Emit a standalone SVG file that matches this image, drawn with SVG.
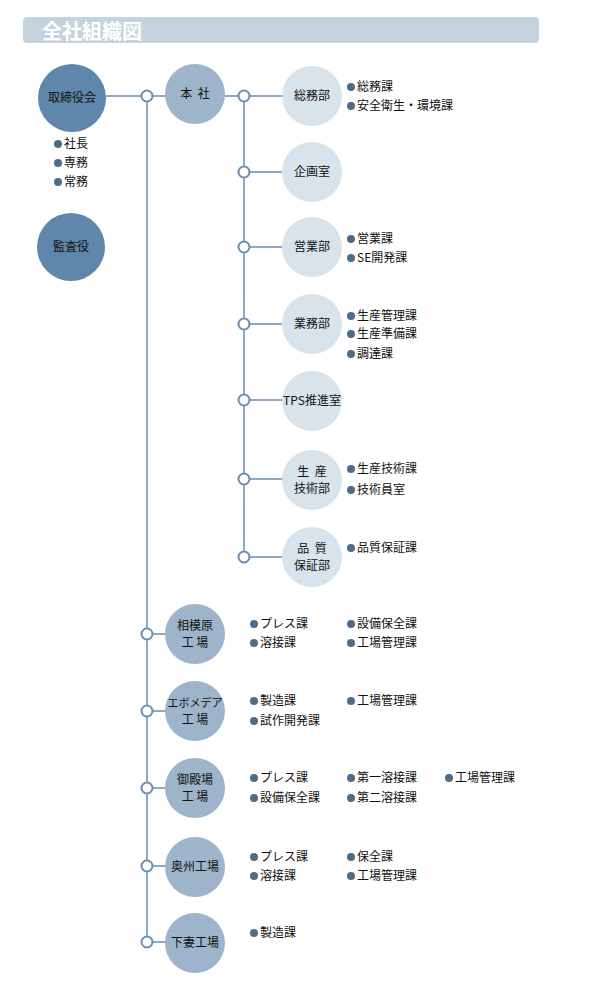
<svg xmlns="http://www.w3.org/2000/svg" width="589" height="983" viewBox="0 0 589 983">
<style>
text{font-family:"Noto Sans CJK JP","Liberation Sans",sans-serif;font-size:12px;fill:#111;}
.c{text-anchor:middle;}
.title{font-size:20px;font-weight:bold;fill:#fff;}
.dark{fill:#5f87ab;}
.mid{fill:#9db4ca;}
.light{fill:#d9e3ec;}
.ln{stroke:#8fa9c2;stroke-width:2;fill:none;}
.jn{fill:#fff;stroke:#6a8db0;stroke-width:2;}
.b{fill:#4d6c8a;}
</style>
<rect x="23" y="17" width="516" height="26" rx="4" fill="#c5d3e0"/>
<text class="title" x="42" y="39">全社組織図</text>
<g id="connectors">
<path class="ln" d="M106 96H166M147 96V942M225 96H283M244 96V557M244 172H283M244 247H283M244 324H283M244 400H283M244 479H283M244 557H283M147 634H166M147 711H166M147 788H166M147 866H166M147 942H166"/>
<circle class="jn" cx="147" cy="96" r="5.5"/>
<circle class="jn" cx="244" cy="96" r="5.5"/>
<circle class="jn" cx="244" cy="172" r="5.5"/>
<circle class="jn" cx="244" cy="247" r="5.5"/>
<circle class="jn" cx="244" cy="324" r="5.5"/>
<circle class="jn" cx="244" cy="400" r="5.5"/>
<circle class="jn" cx="244" cy="479" r="5.5"/>
<circle class="jn" cx="244" cy="557" r="5.5"/>
<circle class="jn" cx="147" cy="634" r="5.5"/>
<circle class="jn" cx="147" cy="711" r="5.5"/>
<circle class="jn" cx="147" cy="788" r="5.5"/>
<circle class="jn" cx="147" cy="866" r="5.5"/>
<circle class="jn" cx="147" cy="942" r="5.5"/>
</g>
<g id="torishimariyakukai">
<circle class="dark" cx="72" cy="98" r="34"/>
<text class="c" x="72" y="102">取締役会</text>
<circle class="b" cx="58" cy="144" r="4"/><text x="64" y="148">社長</text>
<circle class="b" cx="58" cy="163" r="4"/><text x="64" y="167">専務</text>
<circle class="b" cx="58" cy="182" r="4"/><text x="64" y="186">常務</text>
</g>
<g id="kansayaku">
<circle class="dark" cx="71" cy="247" r="34"/>
<text class="c" x="71" y="251">監査役</text>
</g>
<g id="honsha">
<circle class="mid" cx="195" cy="94" r="30"/>
<text class="c" x="195" y="98" xml:space="preserve">本  社</text>
</g>
<g id="soumubu">
<circle class="light" cx="312" cy="96" r="30"/>
<text class="c" x="312" y="100">総務部</text>
<circle class="b" cx="351" cy="87" r="4"/><text x="357" y="91">総務課</text>
<circle class="b" cx="351" cy="106" r="4"/><text x="357" y="110">安全衛生・環境課</text>
</g>
<g id="kikakushitsu">
<circle class="light" cx="312" cy="172" r="30"/>
<text class="c" x="312" y="176">企画室</text>
</g>
<g id="eigyoubu">
<circle class="light" cx="312" cy="247" r="30"/>
<text class="c" x="312" y="251">営業部</text>
<circle class="b" cx="351" cy="239" r="4"/><text x="357" y="243">営業課</text>
<circle class="b" cx="351" cy="258" r="4"/><text x="357" y="262">SE開発課</text>
</g>
<g id="gyoumubu">
<circle class="light" cx="312" cy="324" r="30"/>
<text class="c" x="312" y="328">業務部</text>
<circle class="b" cx="351" cy="316" r="4"/><text x="357" y="320">生産管理課</text>
<circle class="b" cx="351" cy="334" r="4"/><text x="357" y="338">生産準備課</text>
<circle class="b" cx="351" cy="354" r="4"/><text x="357" y="358">調達課</text>
</g>
<g id="tps">
<circle class="light" cx="312" cy="401" r="30"/>
<text class="c" x="312" y="405">TPS推進室</text>
</g>
<g id="seisangijutsubu">
<circle class="light" cx="312" cy="480" r="30"/>
<text class="c" x="312" y="476" xml:space="preserve">生  産</text>
<text class="c" x="312" y="493">技術部</text>
<circle class="b" cx="351" cy="469" r="4"/><text x="357" y="473">生産技術課</text>
<circle class="b" cx="351" cy="490" r="4"/><text x="357" y="494">技術員室</text>
</g>
<g id="hinshitsuhoshoubu">
<circle class="light" cx="312" cy="557" r="30"/>
<text class="c" x="312" y="553" xml:space="preserve">品  質</text>
<text class="c" x="312" y="570">保証部</text>
<circle class="b" cx="351" cy="548" r="4"/><text x="357" y="552">品質保証課</text>
</g>
<g id="sagamihara">
<circle class="mid" cx="195" cy="634" r="30"/>
<text class="c" x="195" y="630">相模原</text>
<text class="c" x="195" y="647">工 場</text>
<circle class="b" cx="254" cy="624" r="4"/><text x="260" y="628">プレス課</text>
<circle class="b" cx="254" cy="643" r="4"/><text x="260" y="647">溶接課</text>
<circle class="b" cx="351" cy="624" r="4"/><text x="357" y="628">設備保全課</text>
<circle class="b" cx="351" cy="643" r="4"/><text x="357" y="647">工場管理課</text>
</g>
<g id="epomedea">
<circle class="mid" cx="195" cy="711" r="30"/>
<text class="c" x="195" y="707" style="font-size:11px">エボメデア</text>
<text class="c" x="195" y="724">工 場</text>
<circle class="b" cx="254" cy="701" r="4"/><text x="260" y="705">製造課</text>
<circle class="b" cx="254" cy="721" r="4"/><text x="260" y="725">試作開発課</text>
<circle class="b" cx="351" cy="701" r="4"/><text x="357" y="705">工場管理課</text>
</g>
<g id="gotemba">
<circle class="mid" cx="195" cy="788" r="30"/>
<text class="c" x="195" y="784">御殿場</text>
<text class="c" x="195" y="801">工 場</text>
<circle class="b" cx="254" cy="778" r="4"/><text x="260" y="782">プレス課</text>
<circle class="b" cx="254" cy="798" r="4"/><text x="260" y="802">設備保全課</text>
<circle class="b" cx="351" cy="778" r="4"/><text x="357" y="782">第一溶接課</text>
<circle class="b" cx="351" cy="798" r="4"/><text x="357" y="802">第二溶接課</text>
<circle class="b" cx="449" cy="778" r="4"/><text x="455" y="782">工場管理課</text>
</g>
<g id="oushu">
<circle class="mid" cx="195" cy="867" r="30"/>
<text class="c" x="195" y="871">奥州工場</text>
<circle class="b" cx="254" cy="857" r="4"/><text x="260" y="861">プレス課</text>
<circle class="b" cx="254" cy="876" r="4"/><text x="260" y="880">溶接課</text>
<circle class="b" cx="351" cy="857" r="4"/><text x="357" y="861">保全課</text>
<circle class="b" cx="351" cy="876" r="4"/><text x="357" y="880">工場管理課</text>
</g>
<g id="shimotsuma">
<circle class="mid" cx="195" cy="943" r="30"/>
<text class="c" x="195" y="947">下妻工場</text>
<circle class="b" cx="254" cy="933" r="4"/><text x="260" y="937">製造課</text>
</g>
</svg>
